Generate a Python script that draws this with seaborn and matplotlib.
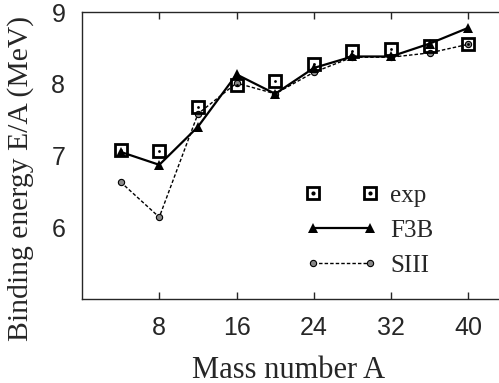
import numpy as np
import pandas as pd
import seaborn as sns
import matplotlib.pyplot as plt
from matplotlib.lines import Line2D
from matplotlib.legend_handler import HandlerTuple

# Mass numbers and binding energy per nucleon (MeV)
mass = [4, 8, 12, 16, 20, 24, 28, 32, 36, 40]
exp_vals = [7.07, 7.06, 7.68, 7.98, 8.04, 8.27, 8.45, 8.49, 8.53, 8.55]
f3b_vals = [7.05, 6.87, 7.40, 8.13, 7.86, 8.22, 8.38, 8.38, 8.56, 8.78]
siii_vals = [6.63, 6.14, 7.58, 8.01, 7.86, 8.16, 8.37, 8.37, 8.43, 8.55]
xticks = [8, 16, 24, 32, 40]
yticks = [6, 7, 8, 9]

df = pd.DataFrame({"A": mass, "exp": exp_vals, "F3B": f3b_vals, "SIII": siii_vals})

sns.set_style("ticks")
plt.rcParams['font.family'] = ['Liberation Sans', 'DejaVu Sans']

fig = plt.figure(figsize=(4.99, 3.83), dpi=100)
ax = fig.add_axes([82 / 499, 1 - 299 / 383, 425 / 499, 287 / 383])

sns.lineplot(data=df, x="A", y="SIII", ax=ax, color="black", lw=1.0,
             linestyle=(0, (2.5, 1.5)), marker="o", markersize=4.5,
             markerfacecolor="#888888", markeredgecolor="black", markeredgewidth=0.8)
sns.lineplot(data=df, x="A", y="F3B", ax=ax, color="black", lw=1.6,
             marker="^", markersize=6.5, markeredgewidth=0)
sns.lineplot(data=df, x="A", y="exp", ax=ax, color="black", linestyle="none",
             marker="s", markersize=8, markerfacecolor="none",
             markeredgecolor="black", markeredgewidth=2.0, zorder=4)
sns.scatterplot(data=df, x="A", y="exp", ax=ax, color="black", s=4, linewidth=0,
                zorder=5)

ax.set_xlim(0, 44)
ax.set_ylim(5, 9)
ax.set_xticks(xticks)
ax.set_yticks(yticks)
ax.tick_params(axis="x", direction="in", length=5, width=1, top=True,
               labelsize=18, pad=12)
ax.tick_params(axis="y", length=0, labelsize=18, pad=12)
for s in ax.spines.values():
    s.set_linewidth(1.0)

serif = ['Liberation Serif', 'DejaVu Serif']
ax.set_xlabel("Mass number A", family=serif, fontsize=22)
ax.set_ylabel("Binding energy E/A (MeV)", family=serif, fontsize=21.3)
ax.xaxis.set_label_coords(0.485, -0.197)
ax.yaxis.set_label_coords(-0.112, 0.42)

sq = Line2D([], [], linestyle="none", marker="s", markersize=8,
            markerfacecolor="none", markeredgecolor="black", markeredgewidth=2.0)
dot = Line2D([], [], linestyle="none", marker="o", markersize=2, color="black")
h_f3b = Line2D([], [], color="black", lw=1.6, marker="^", markersize=6.5,
               markeredgewidth=0)
h_siii = Line2D([], [], color="black", lw=1.0, linestyle=(0, (2.5, 1.5)),
                marker="o", markersize=4.5, markerfacecolor="#888888",
                markeredgecolor="black", markeredgewidth=0.8)
ax.legend([(sq, dot), h_f3b, h_siii], ["exp", "F3B", "SIII"],
          handler_map={tuple: HandlerTuple(ndivide=1, pad=0)},
          numpoints=2, handlelength=2.9, handletextpad=0.5, labelspacing=0.5,
          frameon=False, prop={"family": serif, "size": 18},
          loc="lower left", bbox_to_anchor=(0.472, -0.002))

fig.savefig("out.png", dpi=100)
